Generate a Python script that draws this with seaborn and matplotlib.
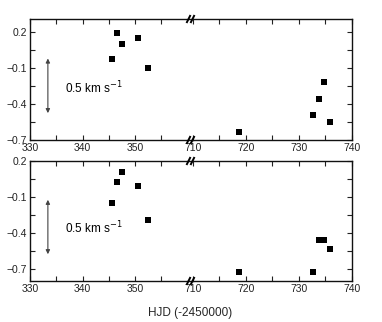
import numpy as np
import pandas as pd
import seaborn as sns
import matplotlib.pyplot as plt

# Radial velocity residuals (km/s) vs HJD - 2450000, two panels
hjd = [345.6, 346.6, 347.5, 350.5, 352.5, 718.7, 732.6, 733.7, 734.7, 735.8]
top_rv = [-0.03, 0.19, 0.10, 0.15, -0.10, -0.63, -0.49, -0.36, -0.22, -0.55]
bottom_rv = [-0.15, 0.025, 0.11, -0.01, -0.29, -0.725, -0.725, -0.455, -0.46, -0.53]

x_ranges = [(330, 361), (710, 740)]
x_major = [[330, 340, 350], [710, 720, 730, 740]]
x_minor = [[335, 345, 355], [715, 725, 735]]
y_major = [0.2, -0.1, -0.4, -0.7]
y_minor = [0.05, -0.25, -0.55]

sns.set_style("ticks")
plt.rcParams["font.family"] = ["Liberation Sans", "DejaVu Sans"]
plt.rcParams["xtick.direction"] = "in"
plt.rcParams["ytick.direction"] = "in"

W, H = 382, 322
fig = plt.figure(figsize=(W / 100, H / 100), dpi=100)


def px_axes(x0, x1, y0, y1):
    return fig.add_axes([x0 / W, 1 - y1 / H, (x1 - x0) / W, (y1 - y0) / H])


def draw_panel(rv, y0, y1, ylim, arrow, text_y):
    df = pd.DataFrame({"HJD": hjd, "RV": rv})
    axes = [px_axes(30, 193, y0, y1), px_axes(193, 352, y0, y1)]
    for k, ax in enumerate(axes):
        lo, hi = x_ranges[k]
        sub = df[(df["HJD"] >= lo) & (df["HJD"] <= hi)]
        sns.scatterplot(data=sub, x="HJD", y="RV", ax=ax, marker="s",
                        color="black", s=24, linewidth=0, legend=False)
        ax.set_xlim(lo, hi)
        ax.set_ylim(*ylim)
        ax.set_xticks(x_major[k])
        ax.set_xticks(x_minor[k], minor=True)
        ax.set_yticks(y_major)
        ax.set_yticks(y_minor, minor=True)
        ax.set_xlabel("")
        ax.set_ylabel("")
        ax.tick_params(which="both", top=True, bottom=True, length=3.5,
                       width=0.8, labelsize=7.5, colors="#222222", pad=2)
        for sp in ax.spines.values():
            sp.set_linewidth(1.0)
            sp.set_color("#111111")
        if k == 0:
            ax.spines["right"].set_visible(False)
            ax.tick_params(axis="y", which="both", left=True, right=False)
        else:
            ax.spines["left"].set_visible(False)
            ax.tick_params(axis="y", which="both", left=False, right=True,
                           labelleft=False)
        # break marks "//"
        if k == 1:
            hw = 2.0 / 159
            hh = 4.0 / (y1 - y0)
            for yy in (0, 1):
                for cx in (-4.5 / 159, -0.5 / 159):
                    ax.plot([cx - hw, cx + hw], [yy - hh, yy + hh],
                            transform=ax.transAxes, color="black", lw=1.4,
                            clip_on=False, solid_capstyle="butt")
    ax = axes[0]
    ax.annotate("", xy=(333.4, arrow[1]), xytext=(333.4, arrow[0]),
                arrowprops=dict(arrowstyle="<|-|>", color="#444444", lw=0.8,
                                mutation_scale=6))
    ax.text(336.6, text_y, "0.5 km s$^{-1}$", fontsize=8.5, va="center",
            ha="left", color="black")
    return axes


draw_panel(top_rv, 19, 140, (-0.7, 0.305), (0.0, -0.5), -0.27)
draw_panel(bottom_rv, 161, 281, (-0.8, 0.2), (-0.1, -0.6), -0.36)

fig.text(190 / W, 1 - 313 / H, "HJD (-2450000)", ha="center", va="center",
         fontsize=8.5)

plt.savefig("out.png", dpi=100)
